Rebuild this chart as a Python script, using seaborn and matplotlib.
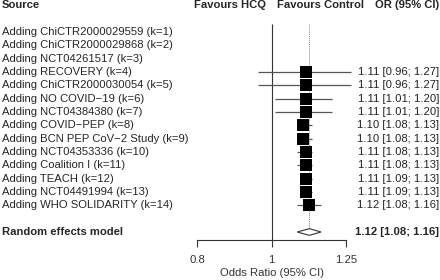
import numpy as np
import pandas as pd
import seaborn as sns
import matplotlib.pyplot as plt
from matplotlib.transforms import blended_transform_factory

sns.set_theme(style="white")
plt.rcParams['font.family'] = ['Liberation Sans', 'DejaVu Sans']

# Cumulative meta-analysis data
studies = ["ChiCTR2000029559", "ChiCTR2000029868", "NCT04261517", "RECOVERY",
           "ChiCTR2000030054", "NO COVID\u221219", "NCT04384380", "COVID\u2212PEP",
           "BCN PEP CoV\u22122 Study", "NCT04353336", "Coalition I", "TEACH",
           "NCT04491994", "WHO SOLIDARITY"]
odds_ratio = [np.nan, np.nan, np.nan, 1.11, 1.11, 1.11, 1.11, 1.10, 1.10, 1.11, 1.11, 1.11, 1.11, 1.12]
ci_lower = [np.nan, np.nan, np.nan, 0.96, 0.96, 1.01, 1.01, 1.08, 1.08, 1.08, 1.08, 1.09, 1.09, 1.08]
ci_upper = [np.nan, np.nan, np.nan, 1.27, 1.27, 1.20, 1.20, 1.13, 1.13, 1.13, 1.13, 1.13, 1.13, 1.16]
pooled_or, pooled_lo, pooled_hi = 1.12, 1.08, 1.16
x_ticks = [0.8, 1, 1.25]

df = pd.DataFrame({"study": studies, "or": odds_ratio, "lo": ci_lower, "hi": ci_upper})
df["row"] = np.arange(1, len(df) + 1)
df["label"] = [f"Adding {s} (k={k})" for s, k in zip(df["study"], df["row"])]
pooled_row = len(df) + 2

fig = plt.figure(figsize=(4.4, 2.8), dpi=100)
ax = fig.add_axes([197 / 440, 40 / 280, 149 / 440, 240 / 280])
ax.set_xscale("log")
ax.set_xlim(0.8, 1.25)
ax.set_ylim(16.6, -1.4)

fs = 8.1
line_col = "#555555"

# reference lines
ax.vlines(1, 0.4, 16.6, color="#333333", lw=0.8, clip_on=False)
ax.vlines(pooled_or, 0.4, pooled_row - 0.25, color="#888888", lw=0.7, ls=(0, (1, 1)))

# CIs and boxes
ok = df.dropna()
ax.hlines(ok["row"], ok["lo"], ok["hi"], color=line_col, lw=0.9, clip_on=False, zorder=2)
sns.scatterplot(data=ok, x="or", y="row", marker="s", s=68, color="black",
                edgecolor="black", linewidth=0, ax=ax, zorder=3, legend=False)

# diamond
ax.fill([pooled_lo, pooled_or, pooled_hi, pooled_or],
        [pooled_row, pooled_row - 0.25, pooled_row, pooled_row + 0.25],
        facecolor="white", edgecolor="#333333", lw=0.8, zorder=3)

# axis
for s in ["top", "right", "left"]:
    ax.spines[s].set_visible(False)
ax.spines["bottom"].set_color("#333333")
ax.spines["bottom"].set_linewidth(0.8)
ax.set_xticks(x_ticks)
ax.set_xticklabels([str(t) for t in x_ticks], fontsize=fs, color="#333333")
ax.minorticks_off()
ax.set_yticks([])
ax.tick_params(axis="x", direction="out", length=5, width=0.8, color="#333333", pad=6, bottom=True)
ax.set_xlabel("Odds Ratio (95% CI)", fontsize=fs, color="#333333", labelpad=2)
ax.set_ylabel("")
ax.grid(False)

tr = blended_transform_factory(fig.transFigure, ax.transData)
x_lab = 2 / 440
x_val = 439 / 440

# headers
ax.text(x_lab, -1, "Source", transform=tr, fontsize=fs, fontweight="bold", va="center", ha="left")
ax.text(266 / 440, -1, "Favours HCQ", transform=tr, fontsize=fs, fontweight="bold", va="center", ha="right")
ax.text(277 / 440, -1, "Favours Control", transform=tr, fontsize=fs, fontweight="bold", va="center", ha="left")
ax.text(x_val, -1, "OR (95% CI)", transform=tr, fontsize=fs, fontweight="bold", va="center", ha="right")

for _, r in df.iterrows():
    ax.text(x_lab, r["row"], r["label"], transform=tr, fontsize=fs, va="center", ha="left")
    if not np.isnan(r["or"]):
        ax.text(x_val, r["row"], f"{r['or']:.2f} [{r['lo']:.2f}; {r['hi']:.2f}]",
                transform=tr, fontsize=fs, va="center", ha="right", color="#222222")

ax.text(x_lab, pooled_row, "Random effects model", transform=tr, fontsize=fs,
        fontweight="bold", va="center", ha="left")
ax.text(x_val, pooled_row, f"{pooled_or:.2f} [{pooled_lo:.2f}; {pooled_hi:.2f}]",
        transform=tr, fontsize=fs, fontweight="bold", va="center", ha="right")

fig.savefig("out.png", dpi=100)
